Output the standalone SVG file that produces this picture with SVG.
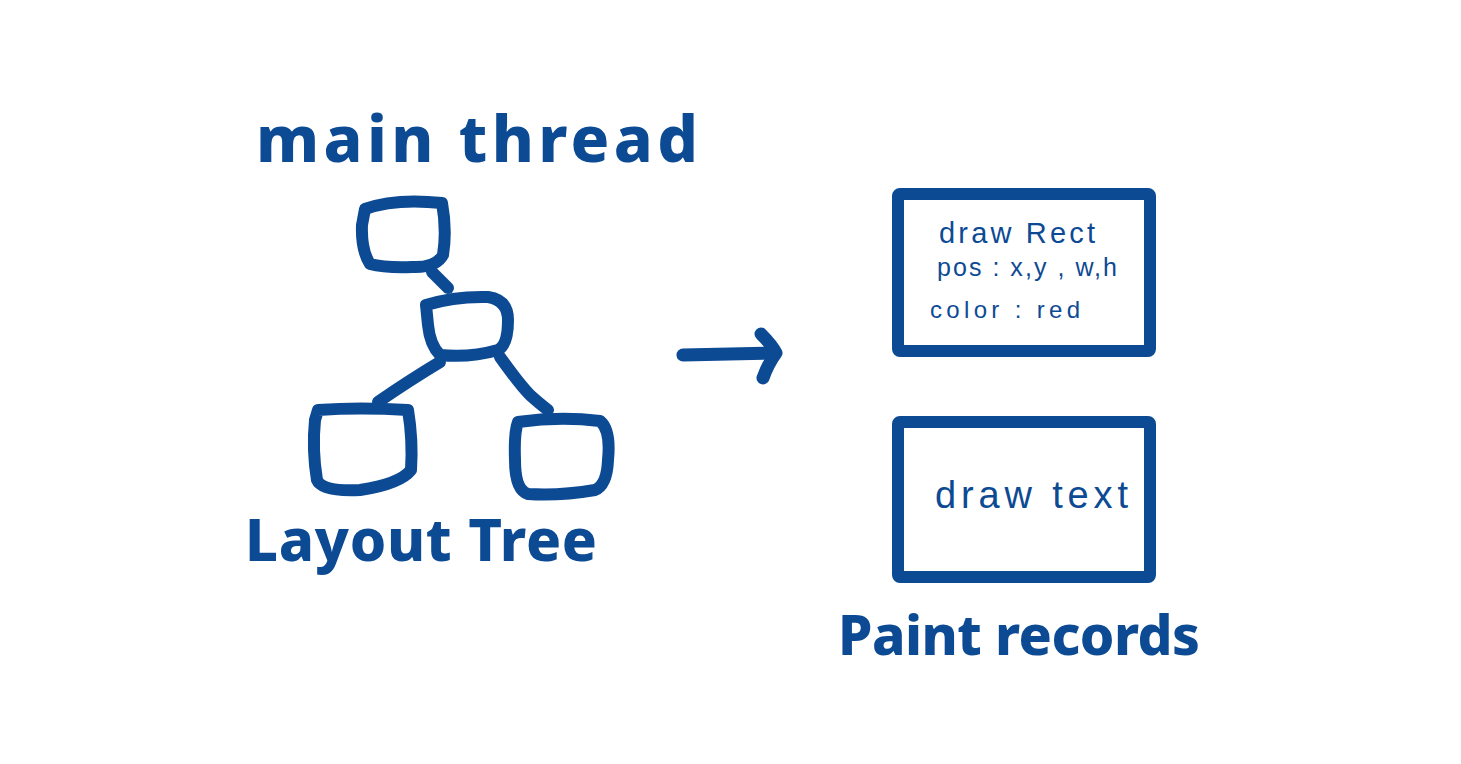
<svg xmlns="http://www.w3.org/2000/svg" width="1461" height="764" viewBox="0 0 1461 764">
<style>
.ink{fill:none;stroke:#0d4a94;stroke-linecap:round;stroke-linejoin:round}
.node{stroke-width:12}
.big{font-family:"Noto Sans","Liberation Sans",sans-serif;font-weight:800;fill:#0d4a94}
.hand{font-family:"Liberation Sans","DejaVu Sans",sans-serif;font-weight:400;fill:#0d4a94}
</style>
<rect width="1461" height="764" fill="#ffffff"/>
<text class="big" x="256" y="162" font-size="64" textLength="442" lengthAdjust="spacing">main  thread</text>
<g id="tree-root"><path class="ink node" d="M365 209 Q395 198 442 203 Q447 230 443 255 Q436 268 412 267 Q385 268 370 264 Q361 250 362 225 Z"/></g>
<g id="tree-mid"><path class="ink node" d="M426 305 Q455 296 488 297 Q508 300 508 320 Q508 345 498 350 Q470 358 440 355 Q430 345 428 325 Z"/></g>
<g id="tree-left"><path class="ink node" d="M318 410 Q360 407 408 410 Q413 440 411 470 Q400 484 360 490 Q322 492 317 480 Q312 450 315 420 Z"/></g>
<g id="tree-right"><path class="ink node" d="M518 422 Q560 416 600 421 Q611 430 608 460 Q607 485 595 490 Q560 496 528 494 Q515 490 515 460 Q514 432 518 422 Z"/></g>
<g id="connectors">
<path class="ink node" d="M432 272 L448 288"/>
<path class="ink node" d="M440 362 Q410 380 378 402"/>
<path class="ink node" d="M500 357 Q520 385 530 395 Q540 404 548 410"/>
<path class="ink" stroke-width="13" d="M683 355 L773 353"/>
<path class="ink" stroke-width="13" d="M761 334 Q772 345 776 353 Q768 364 763 378"/>
</g>
<text class="big" x="245" y="561" font-size="58" textLength="352" lengthAdjust="spacing">Layout  Tree</text>
<g id="record-rect">
<rect class="ink" stroke-width="12" x="898" y="194" width="252" height="157" rx="2"/>
<text class="hand" x="939" y="243" font-size="29" textLength="156" lengthAdjust="spacing">draw  Rect</text>
<text class="hand" x="937" y="276" font-size="25" textLength="180" lengthAdjust="spacing">pos : x,y , w,h</text>
<text class="hand" x="930" y="318" font-size="24" textLength="150" lengthAdjust="spacing">color :   red</text>
</g>
<g id="record-text">
<rect class="ink" stroke-width="12" x="898" y="422" width="252" height="155" rx="2"/>
<text class="hand" x="935" y="508" font-size="38" textLength="193" lengthAdjust="spacing">draw text</text>
</g>
<text class="big" x="838" y="655" font-size="55" textLength="362" lengthAdjust="spacing">Paint  records</text>
</svg>
